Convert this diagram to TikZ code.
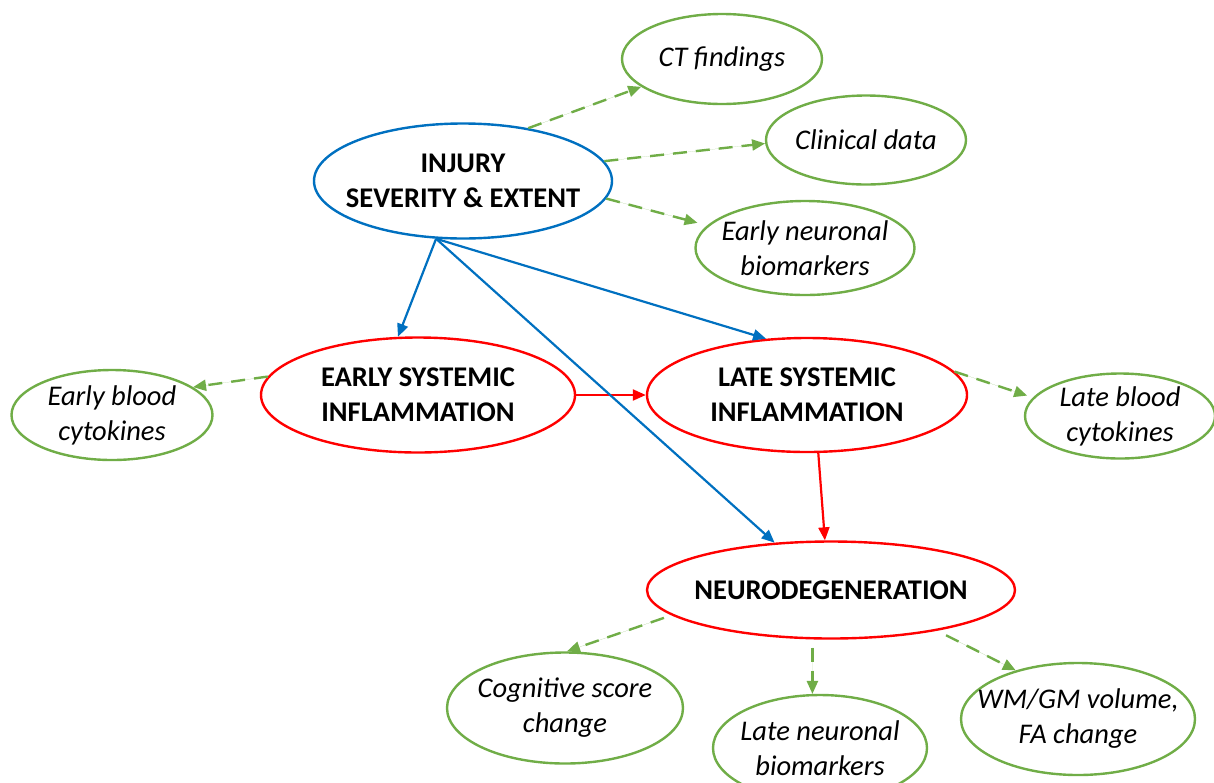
\documentclass[tikz,border=0pt]{standalone}
\usepackage{fontspec}
\setmainfont{Carlito}
\usetikzlibrary{
  shapes.geometric,
  arrows.meta,
}
\definecolor{sevblue}{HTML}{0070C0}
\definecolor{infred}{HTML}{FF0000}
\definecolor{measgreen}{HTML}{70AD47}

\begin{document}
\begin{tikzpicture}[x=1pt,y=-1pt]
\tikzset{
  oval/.style={ellipse, draw, line width=2.4pt, inner sep=-25pt, align=center},
  sevoval/.style={oval, draw=sevblue, font=\fontsize{28.5}{35}\selectfont\bfseries},
  infoval/.style={oval, draw=infred, font=\fontsize{28.5}{35}\selectfont\bfseries},
  measoval/.style={oval, draw=measgreen, font=\fontsize{28.5}{35}\selectfont\itshape},
  sevlink/.style={draw=sevblue, line width=2.2pt, -{Triangle[length=13pt,width=11pt]}, fill=sevblue},
  inflink/.style={draw=infred, line width=2.2pt, -{Triangle[length=13pt,width=11pt]}, fill=infred},
  measlink/.style={draw=measgreen, line width=2.4pt, dash pattern=on 14pt off 9pt,
    -{Triangle[length=13pt,width=11pt]}, fill=measgreen},
}
\useasboundingbox (0,0) rectangle (1214,782);

\node[sevoval, minimum width=298pt, minimum height=115pt] (sev) at (463,181) {INJURY\\SEVERITY \& EXTENT};
\node[infoval, minimum width=314pt, minimum height=115pt] (esi) at (418,395) {EARLY SYSTEMIC\\INFLAMMATION};
\node[infoval, minimum width=320pt, minimum height=114pt] (lsi) at (807,395) {LATE SYSTEMIC\\INFLAMMATION};
\node[infoval, minimum width=368pt, minimum height=97pt] (neuro) at (831,590) {NEURODEGENERATION};

\node[measoval, minimum width=200pt, minimum height=90pt] (ct) at (722,59) {CT findings};
\node[measoval, minimum width=200pt, minimum height=89pt] (clin) at (866,140) {Clinical data};
\node[measoval, minimum width=219pt, minimum height=94pt] (eneur) at (805,248) {Early neuronal\\biomarkers};
\node[measoval, minimum width=201pt, minimum height=90pt] (ebc) at (112,415) {Early blood\\cytokines};
\node[measoval, minimum width=190pt, minimum height=85pt] (lbc) at (1120,416) {Late blood\\cytokines};
\node[measoval, minimum width=236pt, minimum height=111pt] (cog) at (565,708) {Cognitive score\\change};
\node[measoval, minimum width=214pt, minimum height=106pt] (lneur) at (820,748) {Late neuronal\\biomarkers};
\node[measoval, minimum width=234pt, minimum height=112pt] (wmgm) at (1078,719) {WM/GM volume,\\FA change};

\draw[inflink] (esi.east) -- (lsi.west);
\draw[inflink] (lsi.281) -- (neuro.97);
\draw[sevlink] (sev.245) -- (esi.109);
\draw[sevlink] (sev.245) -- (lsi.126);
\draw[sevlink] (sev.245) -- (neuro.140);

\draw[measlink] (sev.39) -- (ct.199);
\draw[measlink] (sev.8) -- (clin.182);
\draw[measlink, shorten >=10pt] (sev.353) -- (eneur.167);
\draw[measlink] (esi.173) -- (ebc.19);
\draw[measlink, shorten >=6pt] (lsi.9) -- (lbc.168);
\draw[measlink, shorten <=8pt] (neuro.189) -- (cog.88);
\draw[measlink, shorten <=8pt] (neuro.south -| lneur.98) -- (lneur.98);
\draw[measlink, shorten <=10pt] (neuro.339) -- (wmgm.142);
\end{tikzpicture}
\end{document}
